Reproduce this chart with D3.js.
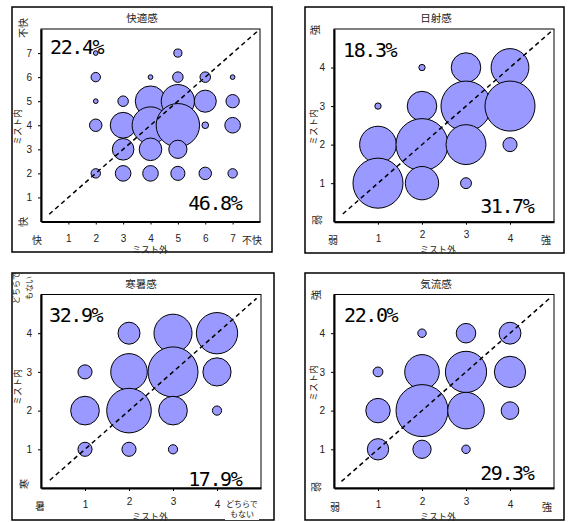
<!DOCTYPE html>
<html><head><meta charset="utf-8">
<script src="https://cdn.jsdelivr.net/npm/d3@7"></script>
<style>
html,body{margin:0;padding:0;background:#fff;}
svg{display:block;}
</style></head>
<body>
<svg id="c" width="569" height="522"></svg>
<script>
// ---------- DATA ----------
const titles = ["快適感", "日射感", "寒暑感", "気流感"];
const upperPct = ["22.4%", "18.3%", "32.9%", "22.0%"];
const lowerPct = ["46.8%", "31.7%", "17.9%", "29.3%"];
const sevenTicks = [1, 2, 3, 4, 5, 6, 7];
const fourTicks = [1, 2, 3, 4];

// 快適感 (ミスト外 x, ミスト内 y, 人数)
const comfortX = [2, 2, 2, 2, 2, 3, 3, 3, 3, 4, 4, 4, 4, 4, 5, 5, 5, 5, 5, 5, 6, 6, 6, 6, 7, 7, 7, 7];
const comfortY = [7, 6, 5, 4, 2, 5, 4, 3, 2, 6, 5, 4, 3, 2, 7, 6, 5, 4, 3, 2, 6, 5, 4, 2, 6, 5, 4, 2];
const comfortN = [1, 4, 1, 7, 4, 5, 30, 21, 11, 1, 42, 61, 23, 11, 3, 5, 50, 85, 15, 9, 5, 22, 2, 7, 1, 8, 11, 4];

// 日射感
const solarX = [1, 1, 1, 2, 2, 2, 2, 3, 3, 3, 3, 4, 4, 4];
const solarY = [3, 2, 1, 4, 3, 2, 1, 4, 3, 2, 1, 4, 3, 2];
const solarN = [1, 34, 63, 1, 22, 68, 28, 22, 63, 40, 3, 36, 63, 5];

// 寒暑感
const thermalX = [1, 1, 1, 2, 2, 2, 2, 3, 3, 3, 3, 4, 4, 4];
const thermalY = [3, 2, 1, 4, 3, 2, 1, 4, 3, 2, 1, 4, 3, 2];
const thermalN = [7, 29, 7, 17, 47, 70, 7, 51, 88, 29, 3, 60, 28, 3];

// 気流感
const airX = [1, 1, 1, 2, 2, 2, 2, 3, 3, 3, 3, 4, 4, 4];
const airY = [3, 2, 1, 4, 3, 2, 1, 4, 3, 2, 1, 4, 3, 2];
const airN = [4, 25, 19, 3, 50, 113, 14, 16, 71, 56, 3, 20, 41, 13];

// axis end labels
const xLeftLabels = ["快", "弱", "暑", "弱"];
const xRightLabels = [["不快"], ["強"], ["どちらで", "もない"], ["強"]];
const yBottomLabels = ["快", "弱", "寒", "弱"];
const yTopLabels = [["不快"], ["強"], ["どちらで", "もない"], ["強"]];

// ---------- LAYOUT ----------
const layouts = [
  {box:[12,7,272,252], plot:[41,29,260,221.5], max:8, ticks:sevenTicks, xs:comfortX, ys:comfortY, ns:comfortN, maxR:21.7,
   diag:[0.3,7.9], yTop:[22,28], yBot:[22,222], xL:[37,239], xR:[252,239], xT:[150,249], yT:[17,127], title:[142,17],
   up:[50,54], lo:[240,210]},
  {box:[305,7,564,253], plot:[334,29,554,221.7], max:5, ticks:fourTicks, xs:solarX, ys:solarY, ns:solarN, maxR:26,
   diag:[0.2,4.95], yTop:[314,30], yBot:[316,220], xL:[333,239], xR:[546,239], xT:[438,249], yT:[313,127], title:[436,17],
   up:[343,57], lo:[532,213]},
  {box:[12,273,274,520], plot:[41,294.5,261,488], max:5, ticks:fourTicks, xs:thermalX, ys:thermalY, ns:thermalN, maxR:25,
   diag:[0.2,4.9], yTop:[22,288], yBot:[23,484], xL:[40,505], xR:[242,503], xT:[150,516], yT:[17,387], title:[141,283],
   up:[49,322], lo:[240,486]},
  {box:[305,273,564,520], plot:[334,294.5,554,488], max:5, ticks:fourTicks, xs:airX, ys:airY, ns:airN, maxR:26,
   diag:[0.17,4.9], yTop:[315,295], yBot:[315,487], xL:[335,506], xR:[547,506], xT:[438,516], yT:[313,383], title:[436,283],
   up:[344,322], lo:[532,480]}
];

const svg = d3.select("#c");
const JP = "'Noto Sans CJK JP', 'Noto Sans', sans-serif";
const NUM = "'Liberation Sans', Arial, sans-serif";
const PCT = "'DejaVu Sans Mono', monospace";

layouts.forEach((L, i) => {
  const g = svg.append("g");
  const [bx0, by0, bx1, by1] = L.box;
  const [px0, py0, px1, py1] = L.plot;

  // outer frame
  g.append("rect").attr("x", bx0).attr("y", by0).attr("width", bx1 - bx0).attr("height", by1 - by0)
    .attr("fill", "#fff").attr("stroke", "#000").attr("stroke-width", 1.5);

  const x = d3.scaleLinear().domain([0, L.max]).range([px0, px1]);
  const y = d3.scaleLinear().domain([0, L.max]).range([py1, py0]);
  const r = d3.scaleSqrt().domain([0, d3.max(L.ns)]).range([0, L.maxR]);

  // bubbles
  const pts = L.xs.map((v, k) => ({x: v, y: L.ys[k], n: L.ns[k]}));
  g.append("g").selectAll("circle").data(pts).join("circle")
    .attr("cx", d => x(d.x)).attr("cy", d => y(d.y)).attr("r", d => r(d.n))
    .attr("fill", "#9999ff").attr("stroke", "#000").attr("stroke-width", 1);

  // diagonal
  g.append("line")
    .attr("x1", x(L.diag[0])).attr("y1", y(L.diag[0]))
    .attr("x2", x(L.diag[1])).attr("y2", y(L.diag[1]))
    .attr("stroke", "#000").attr("stroke-width", 1.5).attr("stroke-dasharray", "4.5,3.5");

  // plot border (thin top/right)
  g.append("rect").attr("x", px0).attr("y", py0).attr("width", px1 - px0).attr("height", py1 - py0)
    .attr("fill", "none").attr("stroke", "#000").attr("stroke-width", 1);

  // axes
  const fmt = d3.format("d");
  const ax = g.append("g").attr("transform", `translate(0,${py1})`)
    .call(d3.axisBottom(x).tickValues(L.ticks).tickFormat(fmt).tickSize(3).tickPadding(10).tickSizeOuter(0));
  const ay = g.append("g").attr("transform", `translate(${px0},0)`)
    .call(d3.axisLeft(y).tickValues(L.ticks).tickFormat(fmt).tickSize(3).tickPadding(6).tickSizeOuter(0));
  [ax, ay].forEach(a => {
    a.select(".domain").attr("stroke", "#000").attr("stroke-width", 2);
    a.selectAll(".tick line").attr("stroke", "#000").attr("stroke-width", 1);
    a.selectAll(".tick text").attr("fill", "#222").style("font-family", NUM).style("font-size", "10px");
  });
  if (L.ticks.length === 4) {
    // middle tick labels sit slightly higher, above the axis title
    ax.selectAll(".tick text").filter(d => d === 2 || d === 3).attr("y", 9.5);
  }

  // title
  g.append("text").attr("x", L.title[0]).attr("y", L.title[1]).attr("text-anchor", "middle")
    .attr("dominant-baseline", "central").style("font-family", JP).style("font-size", "10.5px")
    .attr("fill", "#222").text(titles[i]);

  // x axis title
  g.append("text").attr("x", L.xT[0]).attr("y", L.xT[1]).attr("text-anchor", "middle")
    .attr("dominant-baseline", "central").style("font-family", JP).style("font-size", "9px")
    .attr("fill", "#222").text("ミスト外");
  // y axis title
  g.append("text").attr("transform", `translate(${L.yT[0]},${L.yT[1]}) rotate(-90)`).attr("text-anchor", "middle")
    .attr("dominant-baseline", "central").style("font-family", JP).style("font-size", "9px")
    .attr("fill", "#222").text("ミスト内");

  // x-axis end labels
  g.append("text").attr("x", L.xL[0]).attr("y", L.xL[1]).attr("text-anchor", "middle")
    .attr("dominant-baseline", "central").style("font-family", JP).style("font-size", "10px")
    .attr("fill", "#222").text(xLeftLabels[i]);
  const xr = xRightLabels[i];
  const fsR = xr.length > 1 ? 8 : 10;
  const wR = xr.length > 1 ? 34 : 28;
  g.append("rect").attr("x", L.xR[0] - wR / 2).attr("y", L.xR[1] - 7).attr("width", wR)
    .attr("height", xr.length > 1 ? 24 : 14).attr("fill", "#fff");
  xr.forEach((t, k) => {
    g.append("text").attr("x", L.xR[0]).attr("y", L.xR[1] + k * 10).attr("text-anchor", "middle")
      .attr("dominant-baseline", "central").style("font-family", JP).style("font-size", fsR + "px")
      .attr("fill", "#222").text(t);
  });

  // y-axis end labels (rotated)
  g.append("text").attr("transform", `translate(${L.yBot[0]},${L.yBot[1]}) rotate(-90)`).attr("text-anchor", "middle")
    .attr("dominant-baseline", "central").style("font-family", JP).style("font-size", "10px")
    .attr("fill", "#222").text(yBottomLabels[i]);
  const yt = yTopLabels[i];
  const fsT = yt.length > 1 ? 8 : 10;
  yt.forEach((t, k) => {
    const dx = yt.length > 1 ? (k === 0 ? -6.5 : 6.5) : 0;
    g.append("text").attr("transform", `translate(${L.yTop[0] + dx},${L.yTop[1]}) rotate(-90)`).attr("text-anchor", "middle")
      .attr("dominant-baseline", "central").style("font-family", JP).style("font-size", fsT + "px")
      .attr("fill", "#222").text(t);
  });

  // percentages
  g.append("text").attr("x", L.up[0]).attr("y", L.up[1]).attr("text-anchor", "start")
    .style("font-family", PCT).style("font-size", "20px").style("letter-spacing", "-1.4px")
    .attr("fill", "#000").text(upperPct[i]);
  g.append("text").attr("x", L.lo[0] + 1.4).attr("y", L.lo[1]).attr("text-anchor", "end")
    .style("font-family", PCT).style("font-size", "20px").style("letter-spacing", "-1.4px")
    .attr("fill", "#000").text(lowerPct[i]);
});
</script>
</body></html>
